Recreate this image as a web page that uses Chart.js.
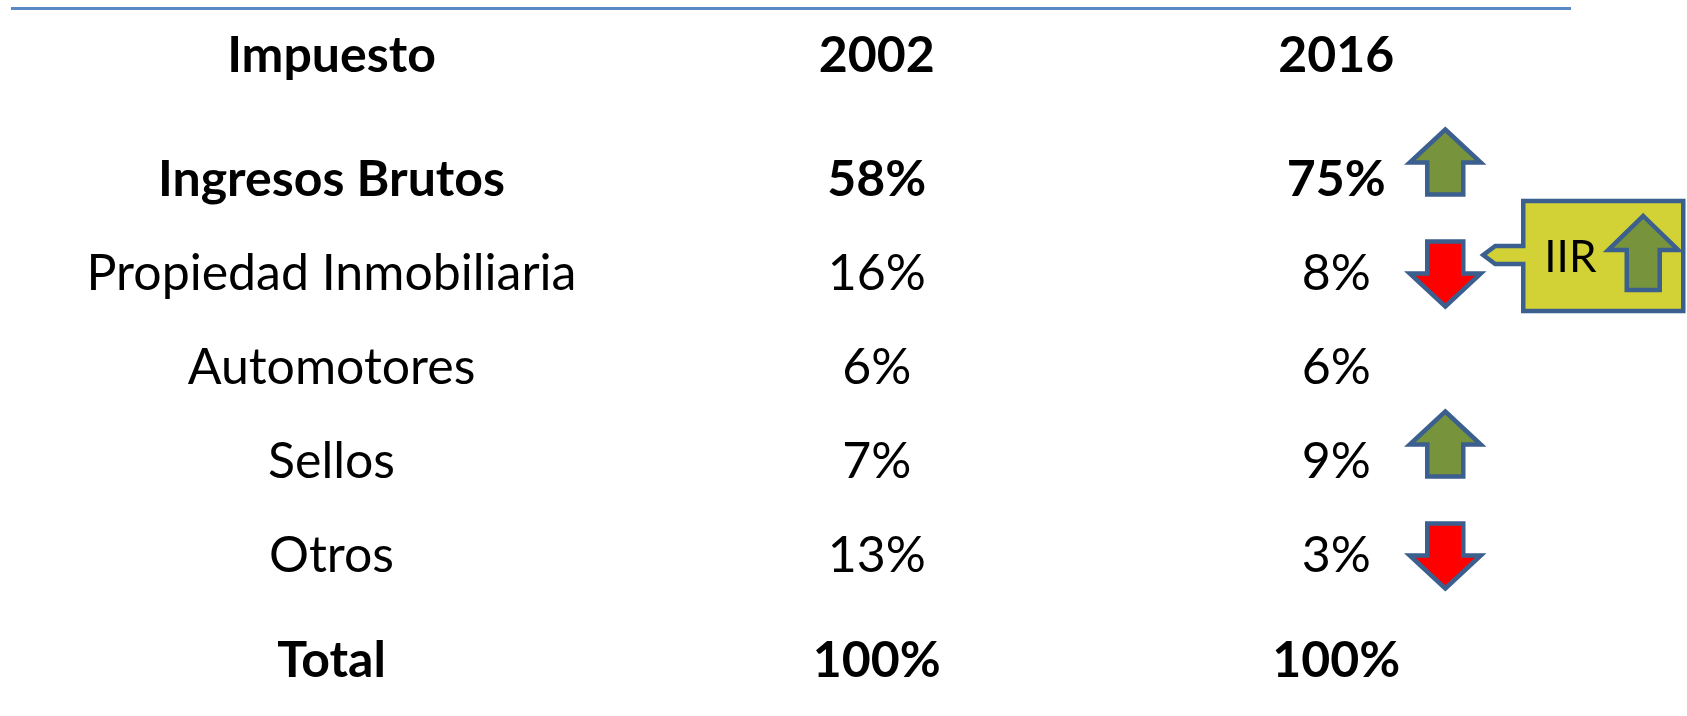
<!DOCTYPE html>
<html>
<head>
<meta charset="utf-8">
<script src="https://cdn.jsdelivr.net/npm/chart.js@4.4.1/dist/chart.umd.min.js"></script>
<style>
  html, body { margin: 0; padding: 0; background: #ffffff; }
  #wrap { width: 1687px; height: 716px; position: relative; }
</style>
</head>
<body>
<div id="wrap"><canvas id="myChart"></canvas></div>
<script>
//table data
const headerLabel = "Impuesto";
const years = ["2002", "2016"];
const impuestos = [
  "Ingresos Brutos",
  "Propiedad Inmobiliaria",
  "Automotores",
  "Sellos",
  "Otros",
];
const share2002 = [58, 16, 6, 7, 13];
const share2016 = [75, 8, 6, 9, 3];
const totalLabel = "Total";
const totals = [100, 100];
//callout next to one row
const calloutText = "IIR";
const calloutRow = "Propiedad Inmobiliaria";

//styles
const FONT = "Lato, 'Noto Sans', sans-serif";
const fontSize = 50;
const blueLine = "#3b5f8e";
const greenFill = "#77933c";
const redFill = "#ff0000";
const yellowFill = "#d2d236";

const values = [share2002, share2016];

function pct(v) {
  return v + "%";
}

//up / down block arrow, centered on cx, cy
function blockArrow(ctx, cx, cy, w, h, headH, shaftW, up, fill) {
  const top = cy - h / 2;
  const bot = cy + h / 2;
  ctx.beginPath();
  if (up) {
    ctx.moveTo(cx, top);
    ctx.lineTo(cx + w / 2, top + headH);
    ctx.lineTo(cx + shaftW / 2, top + headH);
    ctx.lineTo(cx + shaftW / 2, bot);
    ctx.lineTo(cx - shaftW / 2, bot);
    ctx.lineTo(cx - shaftW / 2, top + headH);
    ctx.lineTo(cx - w / 2, top + headH);
  } else {
    ctx.moveTo(cx, bot);
    ctx.lineTo(cx + w / 2, bot - headH);
    ctx.lineTo(cx + shaftW / 2, bot - headH);
    ctx.lineTo(cx + shaftW / 2, top);
    ctx.lineTo(cx - shaftW / 2, top);
    ctx.lineTo(cx - shaftW / 2, bot - headH);
    ctx.lineTo(cx - w / 2, bot - headH);
  }
  ctx.closePath();
  ctx.fillStyle = fill;
  ctx.fill();
  ctx.lineWidth = 4.5;
  ctx.lineJoin = "miter";
  ctx.strokeStyle = blueLine;
  ctx.stroke();
}

const tablePlugin = {
  id: "tablePlugin",
  beforeDraw(chart) {
    const ctx = chart.ctx;
    ctx.save();
    ctx.fillStyle = "#ffffff";
    ctx.fillRect(0, 0, chart.width, chart.height);
    //slide rule under the title area
    ctx.strokeStyle = "#5a8ac6";
    ctx.lineWidth = 3;
    ctx.beginPath();
    ctx.moveTo(11, 8.5);
    ctx.lineTo(1571, 8.5);
    ctx.stroke();
    ctx.restore();
  },
  afterDatasetsDraw(chart) {
    const ctx = chart.ctx;
    const xs = chart.scales.x;
    const ys = chart.scales.y;
    const area = chart.chartArea;
    const nameX = (ys.left + ys.right) / 2;
    const bold = "bold " + fontSize + "px " + FONT;
    const normal = fontSize + "px " + FONT;

    ctx.save();
    ctx.fillStyle = "#000000";
    ctx.textAlign = "center";
    ctx.textBaseline = "middle";

    //header cell in the name column, level with the year labels
    const item = xs.getLabelItems()[0];
    const headY = item.options.translation[1] + item.textOffset;
    ctx.font = bold;
    ctx.fillText(headerLabel, nameX, headY);

    //row names and the values from the datasets
    impuestos.forEach((name, i) => {
      ctx.font = i === 0 ? bold : normal;
      ctx.fillText(name, nameX, ys.getPixelForValue(i));
    });
    chart.data.datasets.forEach((ds, d) => {
      const meta = chart.getDatasetMeta(d);
      meta.data.forEach((pt, i) => {
        ctx.font = i === 0 ? bold : normal;
        ctx.fillText(pct(ds.data[i].v), pt.x, pt.y);
      });
    });

    //total row
    const totalY = area.bottom + 105;
    ctx.font = bold;
    ctx.fillText(totalLabel, nameX, totalY);
    totals.forEach((t, i) => {
      ctx.fillText(pct(t), xs.getPixelForValue(i), totalY);
    });
    ctx.restore();

    //change arrows next to the 2016 column
    const last = chart.getDatasetMeta(1);
    impuestos.forEach((name, i) => {
      const diff = share2016[i] - share2002[i];
      if (diff === 0) return;
      const pt = last.data[i];
      const up = diff > 0;
      ctx.save();
      blockArrow(ctx, pt.x + 109, pt.y + (up ? -18 : 0), 71, 65, 33, 36, up, up ? greenFill : redFill);
      ctx.restore();
    });

    //callout box
    const ci = impuestos.indexOf(calloutRow);
    const cp = last.data[ci];
    const bl = cp.x + 187;
    const br = bl + 160;
    const bt = cp.y - 73;
    const bb = cp.y + 37;
    const py = cp.y - 19;
    ctx.save();
    ctx.beginPath();
    ctx.moveTo(bl, bt);
    ctx.lineTo(br, bt);
    ctx.lineTo(br, bb);
    ctx.lineTo(bl, bb);
    ctx.lineTo(bl, py + 9);
    ctx.lineTo(bl - 28, py + 9);
    ctx.lineTo(bl - 40, py);
    ctx.lineTo(bl - 28, py - 9);
    ctx.lineTo(bl, py - 9);
    ctx.closePath();
    ctx.fillStyle = yellowFill;
    ctx.fill();
    ctx.lineWidth = 4.5;
    ctx.lineJoin = "miter";
    ctx.strokeStyle = blueLine;
    ctx.stroke();
    ctx.fillStyle = "#000000";
    ctx.font = "44px " + FONT;
    ctx.textAlign = "left";
    ctx.textBaseline = "middle";
    ctx.fillText(calloutText, bl + 21, cp.y - 16);
    blockArrow(ctx, bl + 120, cp.y - 21, 70, 74, 34, 33, true, greenFill);
    ctx.restore();
  },
};

const data = {
  datasets: years.map((yr, d) => ({
    label: yr,
    data: impuestos.map((name, i) => ({ x: yr, y: name, v: values[d][i] })),
    showLine: false,
    pointRadius: 0,
    pointHoverRadius: 0,
  })),
};

const config = {
  type: "line",
  data: data,
  options: {
    responsive: true,
    maintainAspectRatio: false,
    animation: false,
    events: [],
    layout: { padding: { left: 16, right: 121, top: 28, bottom: 160 } },
    plugins: { legend: { display: false }, tooltip: { enabled: false } },
    scales: {
      x: {
        type: "category",
        labels: years,
        position: "top",
        offset: true,
        grid: { display: false, drawTicks: false },
        border: { display: false },
        ticks: {
          color: "#000000",
          padding: 94,
          font: { family: FONT, size: fontSize, weight: "bold" },
        },
        afterFit: (scale) => {
          scale.height = 152;
        },
      },
      y: {
        type: "category",
        labels: impuestos,
        offset: false,
        grid: { display: false, drawTicks: false },
        border: { display: false },
        ticks: { display: false },
        afterFit: (scale) => {
          scale.width = 631;
        },
      },
    },
  },
  plugins: [tablePlugin],
};

const myChart = new Chart(document.getElementById("myChart"), config);
</script>
</body>
</html>
